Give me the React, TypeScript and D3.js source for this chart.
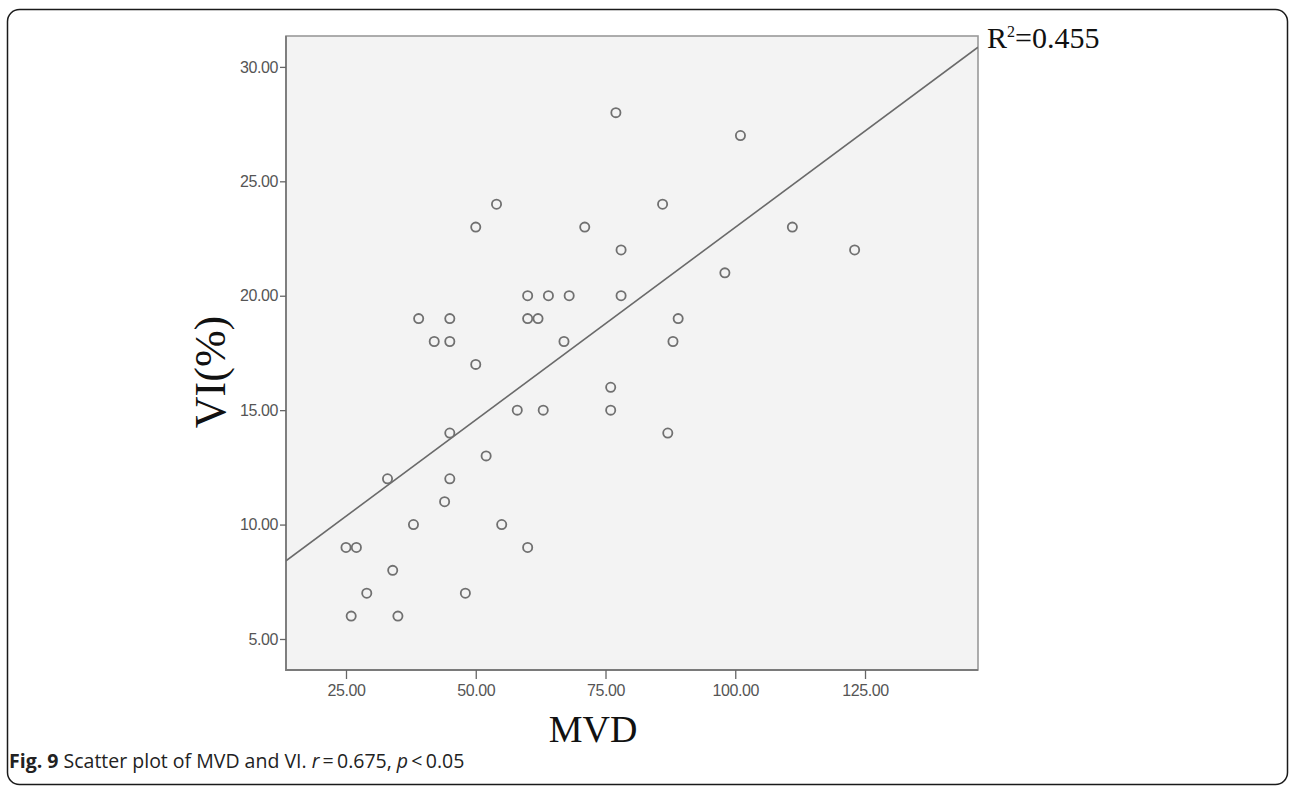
import React, { useRef, useEffect } from 'react';
import * as d3 from 'd3';

// MVD (x) and VI % (y)
const mvd = [77, 101, 54, 86, 50, 71, 111, 78, 123, 98, 60, 64, 68, 78, 39, 45, 60, 62, 89, 42, 45, 67, 88, 50, 76, 58, 63, 76, 45, 87, 52, 33, 45, 44, 38, 55, 25, 27, 60, 34, 29, 48, 26, 35];
const vi = [28, 27, 24, 24, 23, 23, 23, 22, 22, 21, 20, 20, 20, 20, 19, 19, 19, 19, 19, 18, 18, 18, 18, 17, 16, 15, 15, 15, 14, 14, 13, 12, 12, 11, 10, 10, 9, 9, 9, 8, 7, 7, 6, 6];

const xTicks = [25, 50, 75, 100, 125];
const yTicks = [5, 10, 15, 20, 25, 30];
const xDomain = [13.44, 146.77];
const yDomain = [3.645, 31.35];
const r2Label = '0.455';

function App() {
  const ref = useRef();

  useEffect(() => {
    const svg = d3.select(ref.current);
    svg.selectAll('*').remove();

    const W = 1292, H = 786;
    const left = 286, right = 978, top = 36, bottom = 670;

    svg.attr('width', W).attr('height', H).style('background', 'white');

    // outer card
    svg.append('rect')
      .attr('x', 7.5).attr('y', 9.5)
      .attr('width', 1280).attr('height', 775)
      .attr('rx', 12)
      .attr('fill', 'white')
      .attr('stroke', '#1a1a1a')
      .attr('stroke-width', 1.5);

    const x = d3.scaleLinear().domain(xDomain).range([left, right]);
    const y = d3.scaleLinear().domain(yDomain).range([bottom, top]);

    // plot area
    svg.append('rect')
      .attr('x', left).attr('y', top)
      .attr('width', right - left).attr('height', bottom - top)
      .attr('fill', '#f3f3f3')
      .attr('stroke', '#999')
      .attr('stroke-width', 1.6);
    svg.append('path')
      .attr('d', `M${left},${top}V${bottom}H${right}`)
      .attr('fill', 'none')
      .attr('stroke', '#7a7a7a')
      .attr('stroke-width', 1.8);

    const fmt = d3.format('.2f');

    const yAxis = svg.append('g')
      .attr('transform', `translate(${left},0)`)
      .call(d3.axisLeft(y).tickValues(yTicks).tickSize(6).tickPadding(2).tickFormat(fmt));
    const xAxis = svg.append('g')
      .attr('transform', `translate(0,${bottom})`)
      .call(d3.axisBottom(x).tickValues(xTicks).tickSize(9).tickPadding(6).tickFormat(fmt));

    [yAxis, xAxis].forEach(g => {
      g.select('.domain').remove();
      g.selectAll('line').attr('stroke', '#666').attr('stroke-width', 1.3);
      g.selectAll('text')
        .attr('fill', '#555')
        .style('font-family', '"Liberation Sans", Arial, sans-serif')
        .style('font-size', '16px')
        .style('letter-spacing', '-0.4px');
    });

    // least-squares fit line
    const mx = d3.mean(mvd), my = d3.mean(vi);
    const sxy = d3.sum(mvd, (d, i) => (d - mx) * (vi[i] - my));
    const sxx = d3.sum(mvd, d => (d - mx) ** 2);
    const slope = sxy / sxx;
    const icpt = my - slope * mx;
    const lineData = xDomain.map(v => [v, icpt + slope * v]);

    svg.append('clipPath').attr('id', 'plotclip')
      .append('rect')
      .attr('x', left).attr('y', top)
      .attr('width', right - left).attr('height', bottom - top);

    svg.append('path')
      .datum(lineData)
      .attr('clip-path', 'url(#plotclip)')
      .attr('d', d3.line().x(d => x(d[0])).y(d => y(d[1])))
      .attr('fill', 'none')
      .attr('stroke', '#6a6a6a')
      .attr('stroke-width', 1.6);

    svg.append('g')
      .selectAll('circle')
      .data(mvd)
      .enter().append('circle')
        .attr('cx', d => x(d))
        .attr('cy', (d, i) => y(vi[i]))
        .attr('r', 4.6)
        .attr('fill', 'none')
        .attr('stroke', '#707070')
        .attr('stroke-width', 1.8);

    const serif = '"Liberation Serif", "Times New Roman", serif';

    const r2 = svg.append('text')
      .attr('x', 987).attr('y', 48)
      .style('font-family', serif)
      .style('font-size', '30px')
      .attr('fill', '#111');
    r2.append('tspan').text('R');
    r2.append('tspan').attr('dy', -11).style('font-size', '16px').text('2');
    r2.append('tspan').attr('dy', 11).text('=' + r2Label);

    svg.append('text')
      .attr('x', 593).attr('y', 742)
      .attr('text-anchor', 'middle')
      .style('font-family', serif)
      .style('font-size', '38px')
      .attr('fill', '#111')
      .text('MVD');

    svg.append('text')
      .attr('transform', 'translate(225,372) rotate(-90)')
      .attr('text-anchor', 'middle')
      .style('font-family', serif)
      .style('font-size', '44px')
      .attr('fill', '#111')
      .text('VI(%)');

    // caption
    const cap = svg.append('text')
      .attr('x', 9).attr('y', 768)
      .style('font-family', '"Open Sans", "Noto Sans", sans-serif')
      .style('font-size', '19.5px')
      .attr('fill', '#222');
    cap.append('tspan').style('font-weight', 'bold').text('Fig. 9');
    cap.append('tspan').text(' Scatter plot of MVD and VI. ');
    cap.append('tspan').style('font-style', 'italic').text('r');
    cap.append('tspan').text('\u2009=\u20090.675, ');
    cap.append('tspan').style('font-style', 'italic').text('p');
    cap.append('tspan').text('\u2009<\u20090.05');
  }, []);

  return <svg ref={ref} style={{ position: 'absolute', left: 0, top: 0 }}></svg>;
}

export default App;
